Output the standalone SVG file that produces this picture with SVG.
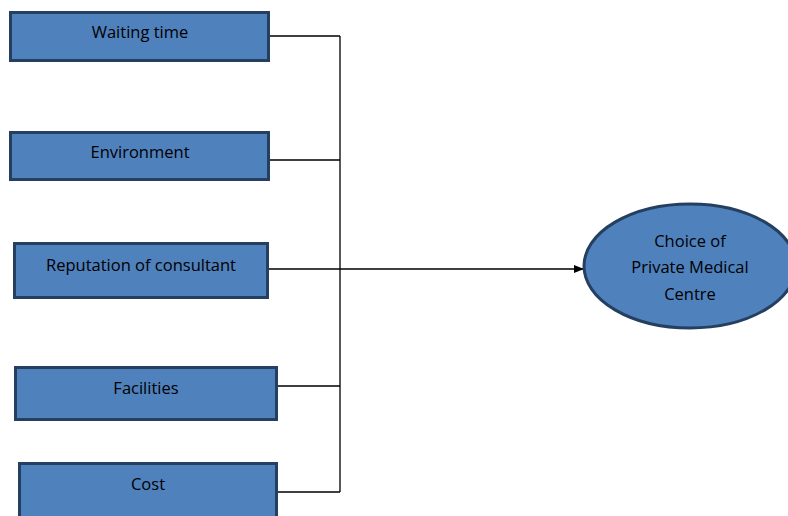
<svg xmlns="http://www.w3.org/2000/svg" width="788" height="516" viewBox="0 0 788 516">
<style>
.box{fill:#4f81bd;stroke:#243f60;stroke-width:3}
.lbl{font-family:"Open Sans","Liberation Sans",sans-serif;font-size:16.5px;fill:#000;text-anchor:middle}
.ln{fill:none;stroke:#000;stroke-width:1.3}
</style>
<defs>
<marker id="arr" markerWidth="10" markerHeight="8" refX="9" refY="4" orient="auto" markerUnits="userSpaceOnUse">
<path d="M0,0 L10,4 L0,8 Z" fill="#000"/>
</marker>
</defs>
<rect width="788" height="516" fill="#fff"/>
<g id="connectors">
<path class="ln" d="M270,36 H340 M270,160 H340 M278,386 H340 M278,492 H340 M340,36 V492"/>
<path class="ln" d="M269,269 H583" marker-end="url(#arr)"/>
</g>
<g id="n1"><rect class="box" x="10.5" y="12.5" width="258" height="48"/><text class="lbl" x="140" y="38">Waiting time</text></g>
<g id="n2"><rect class="box" x="10.5" y="132.5" width="258" height="47"/><text class="lbl" x="140" y="158">Environment</text></g>
<g id="n3"><rect class="box" x="14.5" y="243.5" width="253" height="54"/><text class="lbl" x="141" y="271">Reputation of consultant</text></g>
<g id="n4"><rect class="box" x="15.5" y="367.5" width="261" height="52"/><text class="lbl" x="146" y="394">Facilities</text></g>
<g id="n5"><rect class="box" x="19.5" y="463.5" width="257" height="60"/><text class="lbl" x="148" y="490">Cost</text></g>
<g id="n6"><ellipse class="box" cx="690" cy="266" rx="106" ry="62"/>
<text class="lbl" x="690" y="247">Choice of</text>
<text class="lbl" x="690" y="273">Private Medical</text>
<text class="lbl" x="690" y="300">Centre</text></g>
</svg>
